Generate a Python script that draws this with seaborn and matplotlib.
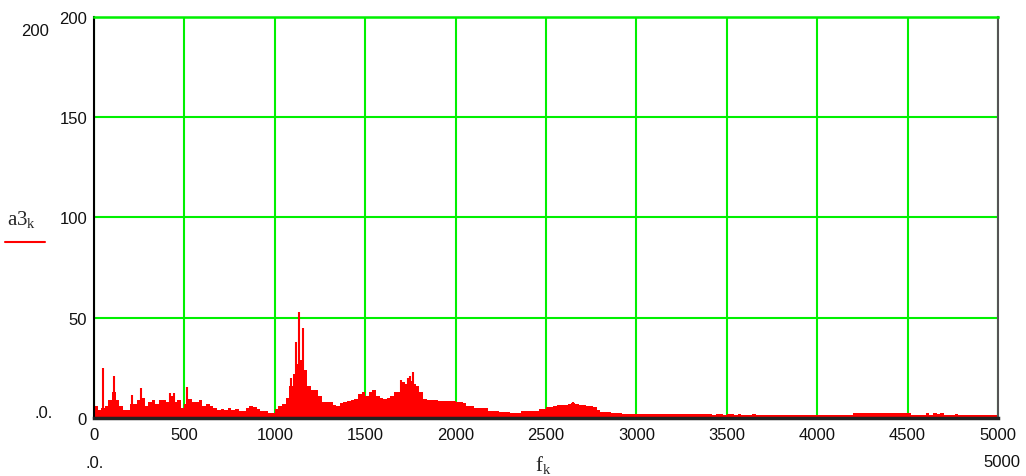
# -------------------------------
# Import required libraries
# -------------------------------
import numpy as np
import matplotlib.pyplot as plt
from matplotlib.lines import Line2D
import seaborn as sns

# -------------------------------
# Data: amplitude spectrum a3 vs frequency f (20 Hz bins, 0..5000)
# -------------------------------
bin_width = 20
amp_0_1000 = [6, 4, 5, 6, 9, 13, 9, 6, 4, 4,
              7, 7, 9, 10, 6, 8, 9, 7, 9, 9,
              8, 11, 8, 9, 5, 7, 9.5, 8, 8, 9,
              6, 7, 6, 5, 4, 4.5, 4, 5, 4, 4.5,
              3.7, 3.7, 5, 6, 5.5, 4.5, 3.7, 3.7, 2.5, 2.5]
amp_1000_2000 = [4.5, 6, 7, 10, 16, 22, 27, 29, 24, 16,
                 14, 14, 11, 8, 8, 8, 6.5, 6, 7.5, 8,
                 8.5, 9, 9.5, 12, 13, 11, 13, 14, 11, 10,
                 9.5, 10, 11, 13, 13, 18, 17, 18.7, 17, 16,
                 13, 9.5, 9, 9, 9, 8.7, 8.7, 8.7, 8.7, 8.7]
amp_2000_3000 = [7.8, 7.8, 7.5, 6, 6, 5, 5, 5, 4.8, 3.7,
                 3.7, 3.7, 2.8, 2.8, 2.8, 2.5, 2.5, 2.5, 3.3, 3.3,
                 3.3, 3.3, 3.3, 4.5, 4.5, 5.7, 5.7, 6, 6.5, 6.5,
                 6.5, 7, 7.5, 7, 6.5, 6.5, 6, 6, 5.5, 4,
                 2.8, 2.8, 2.8, 2.5, 2.5, 2.5, 2, 2, 2, 2]
amp_3000_4000 = [2, 1.9, 2, 1.8, 2, 1.9, 1.8, 2, 1.9, 1.8,
                 1.9, 2, 1.8, 1.9, 1.8, 2, 1.9, 1.8, 1.8, 1.9,
                 1.8, 1.7, 1.9, 1.8, 1.7, 1.8, 1.9, 1.7, 1.8, 1.7,
                 1.6, 1.7, 1.8, 1.6, 1.7, 1.6, 1.7, 1.6, 1.5, 1.6,
                 1.5, 1.6, 1.5, 1.5, 1.6, 1.5, 1.5, 1.6, 1.5, 1.5]
amp_4000_5000 = [1.5, 1.5, 1.4, 1.5, 1.5, 1.4, 1.5, 1.5, 1.6, 1.5,
                 2.5, 2.6, 2.5, 2.7, 2.5, 2.6, 2.5, 2.7, 2.6, 2.5,
                 2.6, 2.5, 2.7, 2.6, 2.5, 2.5, 1.6, 1.5, 1.5, 1.5,
                 2.3, 1.5, 2.3, 2.2, 2.3, 1.5, 1.5, 1.5, 2.0, 1.5,
                 1.5, 1.5, 1.4, 1.5, 1.5, 1.4, 1.5, 1.5, 1.4, 1.5]
amplitudes = amp_0_1000 + amp_1000_2000 + amp_2000_3000 + amp_3000_4000 + amp_4000_5000
frequencies = np.arange(len(amplitudes)) * bin_width + bin_width / 2

# narrow peaks sticking out of the bins
spike_freq = [50, 110, 210, 258, 418, 440, 514, 1090, 1117, 1136, 1154,
              1700, 1735, 1750, 1766, 2650]
spike_amp = [25, 21, 11.5, 15, 12.5, 12.5, 15.7, 20, 38, 53, 44.7,
             19, 20, 21, 23, 8]

x_ticks = list(range(0, 5001, 500))
y_ticks = list(range(0, 201, 50))

# -------------------------------
# Style
# -------------------------------
sns.set_style("white")
plt.rcParams["font.family"] = ["Liberation Sans", "DejaVu Sans"]
plt.rcParams["mathtext.fontset"] = "custom"
plt.rcParams["mathtext.rm"] = "Liberation Serif"
plt.rcParams["mathtext.it"] = "Liberation Serif"

green = "#00f000"

fig = plt.figure(figsize=(10.26, 4.77), dpi=100)
ax = fig.add_axes([0.0916, 0.1216, 0.8811, 0.8407])

# -------------------------------
# Plot spectrum
# -------------------------------
sns.histplot(x=frequencies, weights=amplitudes, binwidth=bin_width, binrange=(0, 5000),
             element="step", fill=True, color="red", alpha=1, linewidth=0, ax=ax)
ax.vlines(spike_freq, 0, spike_amp, color="red", linewidth=1.5)

ax.set_xlim(0, 5000)
ax.set_ylim(0, 200)
ax.set_xticks(x_ticks)
ax.set_yticks(y_ticks)
ax.set_xticklabels([str(t) for t in x_ticks], fontsize=12)
ax.set_yticklabels([str(t) for t in y_ticks], fontsize=12)
ax.tick_params(axis="x", length=0, pad=6.5, colors="#111111")
ax.tick_params(axis="y", length=0, pad=5, colors="#111111")
ax.set_xlabel("")
ax.set_ylabel("")

ax.grid(True, color=green, linewidth=1.5)
ax.set_axisbelow(True)

ax.spines["top"].set_color(green)
ax.spines["top"].set_linewidth(1.8)
ax.spines["left"].set_color("black")
ax.spines["left"].set_linewidth(1.5)
ax.spines["right"].set_color("#555555")
ax.spines["right"].set_linewidth(1.5)
ax.spines["bottom"].set_color("#222222")
ax.spines["bottom"].set_linewidth(2.5)

# -------------------------------
# Mathcad-style labels and limits
# -------------------------------
W, H = 1026, 477
fig.text(35 / W, 1 - 32 / H, "200", fontsize=12, ha="center", va="center", color="#111111")
fig.text(44 / W, 1 - 414 / H, ".0.", fontsize=12, ha="center", va="center", color="#111111")
fig.text(95 / W, 1 - 464 / H, ".0.", fontsize=12, ha="center", va="center", color="#111111")
fig.text(1002 / W, 1 - 463 / H, "5000", fontsize=12, ha="center", va="center", color="#111111")
fig.text(22 / W, 1 - 220 / H, r"$\mathrm{a3_k}$", fontsize=15, ha="center", va="center")
fig.text(543 / W, 1 - 465 / H, r"$\mathrm{f_k}$", fontsize=15, ha="center", va="center")
fig.add_artist(Line2D([5 / W, 45 / W], [1 - 243 / H, 1 - 243 / H], color="red", linewidth=1.5))

fig.savefig("out.png", dpi=100)
